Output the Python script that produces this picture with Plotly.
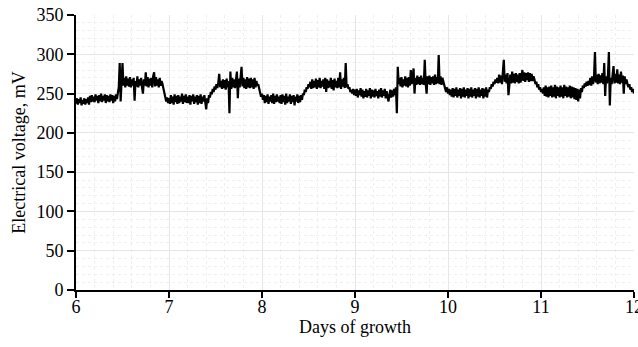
import plotly.graph_objects as go

# Electrical voltage (mV), sampled every 0.01 day
day6 = [237, 244, 236, 243, 238, 245, 235, 242, 237, 244,
        236, 243, 238, 245, 236, 247, 239, 248, 240, 246,
        239, 249, 241, 247, 238, 248, 240, 250, 239, 247,
        241, 249, 238, 248, 240, 247, 239, 249, 241, 248,
        238, 247, 240, 249, 243, 252, 258, 289, 240, 265,
        289, 260, 270, 258, 272, 260, 269, 259, 271, 258,
        268, 260, 270, 241, 266, 259, 272, 258, 268, 260,
        270, 258, 250, 268, 260, 277, 259, 271, 258, 269,
        260, 270, 258, 272, 277, 259, 271, 260, 268, 258,
        270, 260, 266, 262, 256, 250, 246, 240, 245, 238]
day7 = [244, 237, 248, 238, 246, 236, 249, 239, 247, 237,
        248, 238, 246, 240, 250, 237, 247, 239, 249, 238,
        246, 238, 248, 236, 247, 240, 249, 237, 246, 239,
        248, 236, 247, 238, 249, 237, 246, 240, 248, 236,
        230, 244, 238, 248, 245, 252, 249, 256, 252, 259,
        255, 262, 257, 264, 275, 258, 266, 256, 268, 257,
        267, 255, 269, 258, 266, 225, 278, 256, 270, 258,
        268, 257, 270, 278, 244, 269, 258, 271, 284, 259,
        270, 257, 268, 256, 271, 258, 269, 257, 270, 258,
        268, 256, 270, 258, 266, 260, 262, 256, 250, 246]
day8 = [250, 242, 248, 238, 247, 239, 249, 237, 246, 240,
        248, 238, 250, 237, 247, 239, 249, 240, 246, 238,
        248, 237, 249, 239, 247, 236, 250, 238, 246, 240,
        249, 237, 247, 239, 248, 235, 246, 240, 249, 238,
        247, 239, 248, 242, 250, 248, 255, 252, 258, 256,
        262, 258, 265, 256, 268, 257, 266, 258, 269, 256,
        267, 258, 270, 257, 266, 259, 268, 256, 270, 252,
        268, 257, 266, 258, 270, 256, 267, 254, 269, 258,
        266, 257, 270, 258, 277, 256, 268, 259, 270, 257,
        289, 258, 262, 256, 258, 252, 255, 250, 256, 248]
day9 = [255, 247, 256, 245, 254, 248, 257, 246, 255, 244,
        253, 246, 256, 245, 254, 247, 257, 244, 255, 246,
        254, 245, 256, 247, 253, 244, 255, 246, 257, 245,
        254, 247, 256, 244, 253, 246, 240, 248, 255, 245,
        254, 246, 256, 248, 258, 225, 284, 262, 270, 259,
        271, 258, 268, 260, 272, 259, 270, 258, 271, 260,
        280, 262, 272, 282, 250, 270, 261, 273, 262, 271,
        261, 273, 262, 270, 261, 293, 263, 250, 272, 262,
        273, 261, 271, 263, 272, 261, 274, 262, 271, 263,
        299, 262, 272, 261, 270, 264, 262, 256, 252, 258]
day10 = [250, 256, 248, 255, 246, 257, 245, 256, 247, 258,
         245, 255, 247, 257, 244, 256, 246, 258, 245, 255,
         247, 257, 244, 256, 246, 258, 245, 255, 247, 257,
         244, 256, 246, 258, 245, 255, 247, 257, 244, 256,
         246, 258, 245, 255, 252, 258, 256, 262, 259, 265,
         262, 268, 264, 270, 263, 274, 264, 273, 262, 275,
         293, 265, 274, 263, 276, 248, 266, 274, 263, 278,
         264, 275, 263, 276, 265, 274, 263, 276, 264, 275,
         280, 266, 277, 265, 276, 267, 277, 265, 276, 266,
         275, 266, 272, 268, 262, 265, 258, 262, 255, 258]
day11 = [252, 256, 250, 258, 247, 260, 246, 258, 245, 259,
         247, 260, 245, 258, 246, 261, 244, 259, 247, 258,
         245, 260, 246, 258, 244, 261, 247, 259, 245, 258,
         246, 260, 244, 259, 245, 258, 243, 257, 242, 256,
         240, 255, 244, 257, 252, 260, 257, 263, 259, 265,
         260, 266, 261, 270, 260, 272, 262, 271, 303, 264,
         274, 262, 275, 263, 273, 264, 276, 262, 289, 247,
         272, 263, 274, 303, 235, 270, 262, 274, 285, 263,
         275, 264, 281, 263, 274, 262, 278, 264, 273, 250,
         272, 262, 268, 262, 258, 262, 255, 258, 252, 256,
         250]

start_day = 6
step = 0.01
x_ticks = [6, 7, 8, 9, 10, 11, 12]
y_ticks = [0, 50, 100, 150, 200, 250, 300, 350]

voltage = day6 + day7 + day8 + day9 + day10 + day11
days = [start_day + i * step for i in range(len(voltage))]

font = "Liberation Serif, Times New Roman, serif"

fig = go.Figure()
fig.add_trace(go.Scatter(x=days, y=voltage, mode="lines",
                         line=dict(color="black", width=2.2),
                         showlegend=False, hoverinfo="skip", cliponaxis=False))

fig.update_layout(
    width=638, height=347,
    margin=dict(l=76, r=4, t=15, b=57, autoexpand=False),
    paper_bgcolor="white", plot_bgcolor="white",
    font=dict(family=font, size=18, color="black"),
)
fig.update_xaxes(
    range=[6, 12], tickvals=x_ticks, ticks="outside", ticklen=6, tickwidth=1.5,
    tickcolor="black", showline=True, linecolor="black", linewidth=2,
    showgrid=True, gridcolor="#e6e6e6", gridwidth=1, zeroline=False,
    minor=dict(dtick=0.2, showgrid=True, gridcolor="#efefef", griddash="dot"),
    title=dict(text="Days of growth", font=dict(size=18), standoff=0),
    tickfont=dict(size=18), automargin=False, ticklabeloverflow="allow",
    ticklabelstandoff=-7,
)
fig.update_yaxes(
    range=[0, 350], tickvals=y_ticks, ticks="outside", ticklen=7, tickwidth=1.5,
    tickcolor="black", showline=True, linecolor="black", linewidth=2,
    showgrid=True, gridcolor="#e6e6e6", gridwidth=1, zeroline=False,
    minor=dict(dtick=10, showgrid=True, gridcolor="#efefef", griddash="dot"),
    title=dict(text="Electrical voltage, mV", font=dict(size=18), standoff=6),
    tickfont=dict(size=18), automargin=False,
)

fig.write_html("out.html", config={"displayModeBar": False},
               post_script="document.body.style.margin='0';document.body.style.overflow='hidden';")
